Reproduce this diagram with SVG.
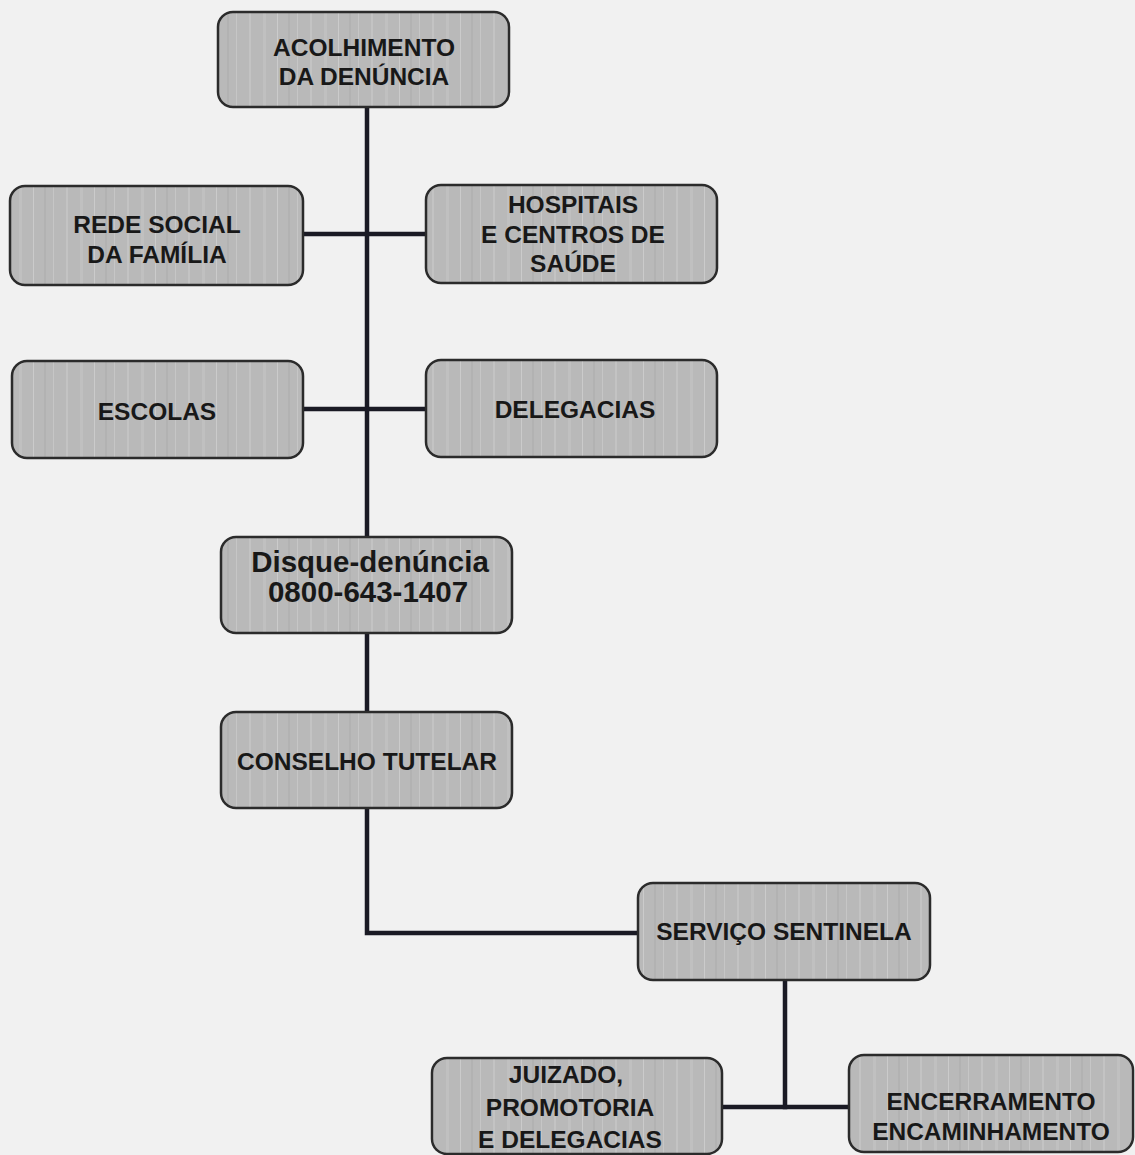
<svg xmlns="http://www.w3.org/2000/svg" width="1135" height="1155" viewBox="0 0 1135 1155">
<defs>
<pattern id="streaks" patternUnits="userSpaceOnUse" x="0" y="0" width="61" height="10">
<rect width="61" height="10" fill="#b9b9b9"/>
<rect x="5" width="2" height="10" fill="#c3c3c3"/>
<rect x="19" width="3" height="10" fill="#c0c0c0"/>
<rect x="33" width="1" height="10" fill="#cbcbcb"/>
<rect x="44" width="2" height="10" fill="#b2b2b2"/>
<rect x="53" width="1" height="10" fill="#c6c6c6"/>
</pattern>
</defs>
<style>
.box{fill:url(#streaks);stroke:#2b2b2b;stroke-width:2.5}
.t{font-family:"Liberation Sans",Arial,sans-serif;font-weight:bold;font-size:24.5px;fill:#181818;text-anchor:middle}
.big{font-size:29.5px}
.c{fill:none;stroke:#1a1a24;stroke-width:4.5;stroke-linecap:square;stroke-linejoin:miter}
</style>
<rect width="1135" height="1155" fill="#f1f1f1"/>
<g id="connectors">
<path class="c" d="M367 107 V537"/>
<path class="c" d="M303 234 H426"/>
<path class="c" d="M303 409 H426"/>
<path class="c" d="M367 633 V712"/>
<path class="c" d="M367 808 V933 H638"/>
<path class="c" d="M785 980 V1107"/>
<path class="c" d="M722 1107 H849"/>
</g>
<g id="acolhimento">
<rect class="box" x="218" y="12" width="291" height="95" rx="15"/>
<text class="t" x="364" y="56">ACOLHIMENTO</text>
<text class="t" x="364" y="85">DA DENÚNCIA</text>
</g>
<g id="rede-social">
<rect class="box" x="10" y="186" width="293" height="99" rx="15"/>
<text class="t" x="157" y="233">REDE SOCIAL</text>
<text class="t" x="157" y="263">DA FAMÍLIA</text>
</g>
<g id="hospitais">
<rect class="box" x="426" y="185" width="291" height="98" rx="15"/>
<text class="t" x="573" y="213">HOSPITAIS</text>
<text class="t" x="573" y="243">E CENTROS DE</text>
<text class="t" x="573" y="272">SAÚDE</text>
</g>
<g id="escolas">
<rect class="box" x="12" y="361" width="291" height="97" rx="15"/>
<text class="t" x="157" y="420">ESCOLAS</text>
</g>
<g id="delegacias">
<rect class="box" x="426" y="360" width="291" height="97" rx="15"/>
<text class="t" x="575" y="418">DELEGACIAS</text>
</g>
<g id="disque">
<rect class="box" x="221" y="537" width="291" height="96" rx="15"/>
<text class="t big" x="370" y="572">Disque-denúncia</text>
<text class="t big" x="368" y="602">0800-643-1407</text>
</g>
<g id="conselho">
<rect class="box" x="221" y="712" width="291" height="96" rx="15"/>
<text class="t" x="367" y="770">CONSELHO TUTELAR</text>
</g>
<g id="servico">
<rect class="box" x="638" y="883" width="292" height="97" rx="15"/>
<text class="t" x="784" y="940">SERVIÇO SENTINELA</text>
</g>
<g id="juizado">
<rect class="box" x="432" y="1058" width="290" height="96" rx="15"/>
<text class="t" x="566" y="1083">JUIZADO,</text>
<text class="t" x="570" y="1116">PROMOTORIA</text>
<text class="t" x="570" y="1148">E DELEGACIAS</text>
</g>
<g id="encerramento">
<rect class="box" x="849" y="1055" width="284" height="97" rx="15"/>
<text class="t" x="991" y="1110">ENCERRAMENTO</text>
<text class="t" x="991" y="1140">ENCAMINHAMENTO</text>
</g>
</svg>
